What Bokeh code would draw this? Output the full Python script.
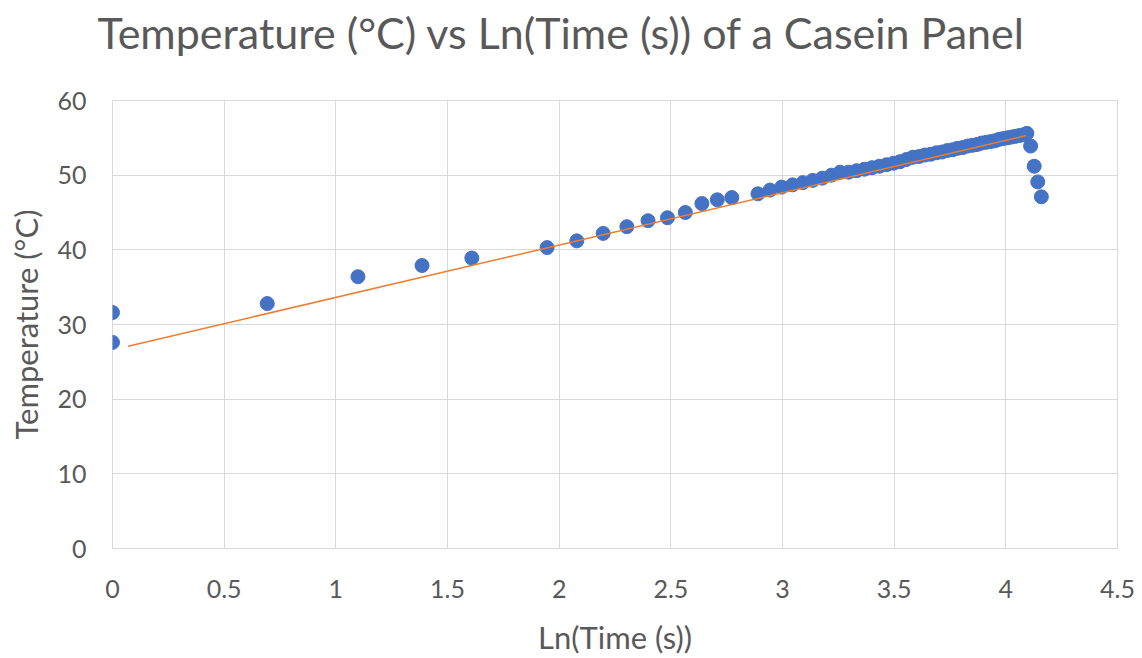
from bokeh.plotting import figure
from bokeh.models import FixedTicker, ColumnDataSource, Title
from bokeh.embed import file_html
from bokeh.resources import INLINE

# Ln(Time (s)) values of the measured points
ln_time = [0.000, 0.000, 0.693, 1.099, 1.386, 1.609, 1.946, 2.079, 2.197, 2.303,
           2.398, 2.485, 2.565, 2.639, 2.708, 2.773, 2.890, 2.944, 2.996, 3.045,
           3.091, 3.135, 3.178, 3.219, 3.258, 3.296, 3.332, 3.367, 3.401, 3.434,
           3.466, 3.497, 3.526, 3.555, 3.584, 3.611, 3.638, 3.664, 3.689, 3.714,
           3.738, 3.761, 3.784, 3.807, 3.829, 3.850, 3.871, 3.892, 3.912, 3.932,
           3.951, 3.970, 3.989, 4.007, 4.025, 4.043, 4.060, 4.078, 4.094, 4.111,
           4.127, 4.143, 4.159]
# Temperature (°C)
temperature = [31.6, 27.6, 32.8, 36.4, 37.9, 38.9, 40.3, 41.2, 42.2, 43.1,
               43.9, 44.3, 45.0, 46.2, 46.7, 47.0, 47.5, 48.0, 48.4, 48.7,
               49.0, 49.3, 49.6, 50.0, 50.4, 50.4, 50.6, 50.8, 51.0, 51.2,
               51.4, 51.6, 51.8, 52.1, 52.4, 52.5, 52.7, 52.8, 53.0, 53.1,
               53.3, 53.4, 53.6, 53.7, 53.9, 54.0, 54.1, 54.3, 54.4, 54.5,
               54.6, 54.8, 54.9, 55.0, 55.1, 55.2, 55.3, 55.4, 55.6, 53.9,
               51.2, 49.1, 47.1]
# Linear trendline end points
trend_x = [0.07, 4.09]
trend_y = [27.1, 55.3]

x_ticks = [0, 0.5, 1, 1.5, 2, 2.5, 3, 3.5, 4, 4.5]
x_tick_labels = ["0", "0.5", "1", "1.5", "2", "2.5", "3", "3.5", "4", "4.5"]
y_ticks = [0, 10, 20, 30, 40, 50, 60]
y_tick_labels = ["0", "10", "20", "30", "40", "50", "60"]

FONT = "Lato"
GREY = "#595959"
GRID = "#d9d9d9"

p = figure(width=1142, height=658, x_range=(0, 4.5), y_range=(0, 60),
           output_backend="svg", toolbar_location=None,
           min_border_left=112, min_border_right=25,
           min_border_top=100, min_border_bottom=108)

# invisible spacer panel between the title and the plot area
spacer = Title(text=" ", text_font_size="1px", standoff=40)
p.add_layout(spacer, "above")

t = Title(text="Temperature (°C) vs Ln(Time (s)) of a Casein Panel",
          text_font=FONT, text_font_size="43px", text_font_style="normal",
          text_color=GREY, align="left", offset=-15, standoff=0)
p.add_layout(t, "above")

p.outline_line_color = GRID
p.outline_line_width = 1

p.xaxis.ticker = FixedTicker(ticks=x_ticks)
p.yaxis.ticker = FixedTicker(ticks=y_ticks)
p.xaxis.major_label_overrides = {v: s for v, s in zip(x_ticks, x_tick_labels)}
p.yaxis.major_label_overrides = {v: s for v, s in zip(y_ticks, y_tick_labels)}

for ax in (p.xaxis, p.yaxis):
    ax.axis_line_color = None
    ax.major_tick_line_color = None
    ax.minor_tick_line_color = None
    ax.major_label_text_font = FONT
    ax.major_label_text_font_size = "25px"
    ax.major_label_text_color = GREY
    ax.axis_label_text_font = FONT
    ax.axis_label_text_font_size = "31px"
    ax.axis_label_text_font_style = "normal"
    ax.axis_label_text_color = GREY

p.xaxis.axis_label = "Ln(Time (s))"
p.yaxis.axis_label = "Temperature (°C)"
p.xaxis.major_label_standoff = 25
p.yaxis.major_label_standoff = 20
p.xaxis.axis_label_standoff = 17
p.yaxis.axis_label_standoff = 9

p.xgrid.grid_line_color = GRID
p.ygrid.grid_line_color = GRID
p.xgrid.grid_line_width = 1
p.ygrid.grid_line_width = 1

src = ColumnDataSource(data=dict(x=ln_time, y=temperature))
p.scatter("x", "y", source=src, size=14, fill_color="#4472C4", line_color="#4472C4")
p.line(trend_x, trend_y, line_color="#ED7D31", line_width=1.5)

open("out.html", "w").write(file_html(p, INLINE))
